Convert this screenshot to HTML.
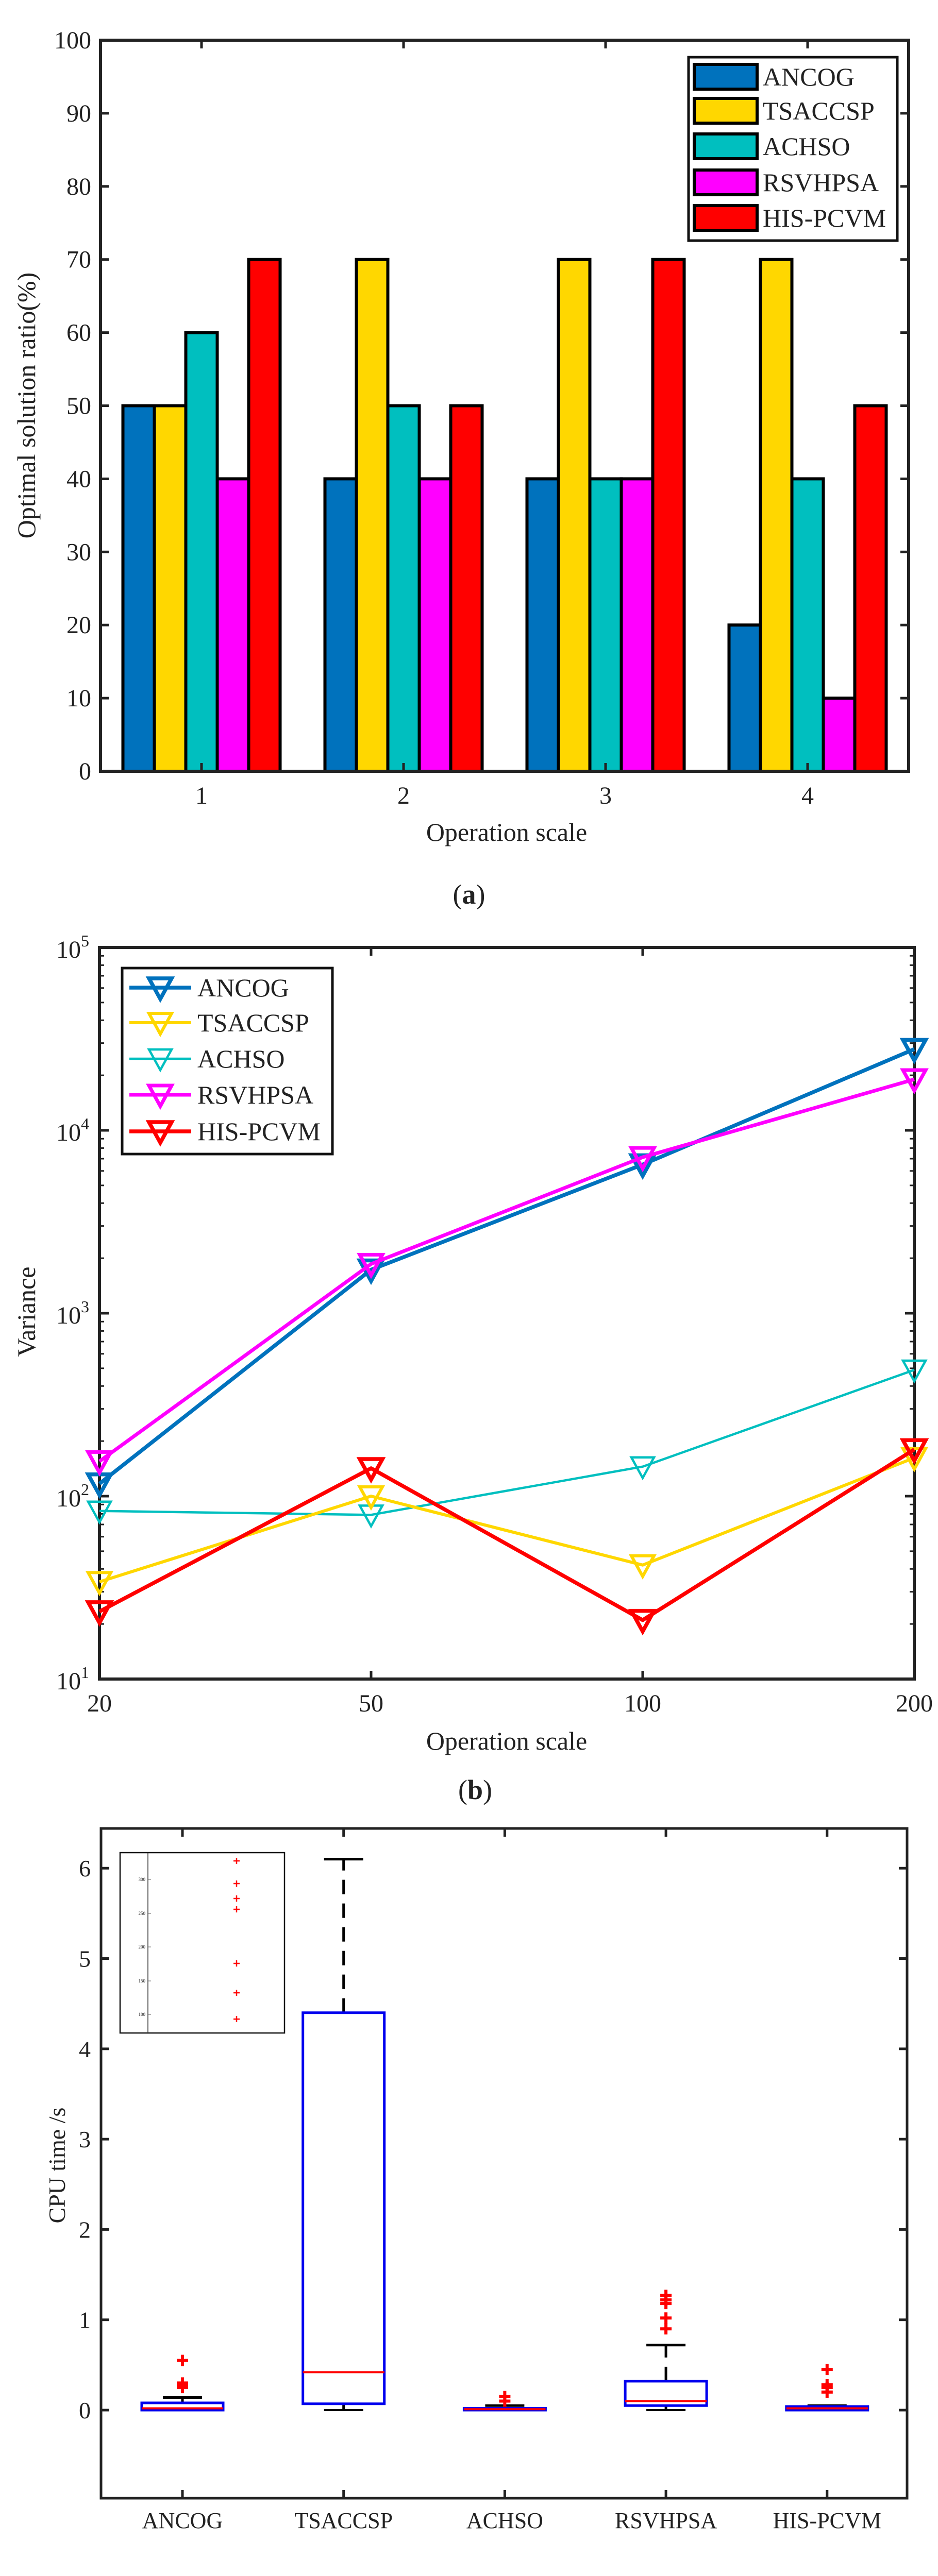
<!DOCTYPE html>
<html><head><meta charset="utf-8"><style>
html,body{margin:0;padding:0;background:#fff;width:1820px;height:5067px;overflow:hidden}
svg{display:block}
text{font-family:"Liberation Serif",serif;fill:#222}
</style></head><body>
<svg id="fig" xmlns="http://www.w3.org/2000/svg" width="1820" height="5067" viewBox="0 0 1820 5067">
<g id="ga"></g>
<g id="gb"></g>
<g id="gc"></g>
</svg>
<script>
// ---- data (a)
const aCategories = ["1","2","3","4"];
const aSeriesNames = ["ANCOG","TSACCSP","ACHSO","RSVHPSA","HIS-PCVM"];
const aAncog = [50,40,40,20];
const aTsaccsp = [50,70,70,70];
const aAchso = [60,50,40,40];
const aRsvhpsa = [40,40,40,10];
const aHis = [70,50,70,50];
const aYTicks = [0,10,20,30,40,50,60,70,80,90,100];
// ---- data (b)
const bCategories = ["20","50","100","200"];
const bAncog = [117,1730,6500,27800];
const bTsaccsp = [34,100,42,162];
const bAchso = [83,79,145,490];
const bRsvhpsa = [155,1860,7130,19000];
const bHis = [23.4,142,21,180];
const bYTickExp = [1,2,3,4,5];
// ---- data (c)
const cCategories = ["ANCOG","TSACCSP","ACHSO","RSVHPSA","HIS-PCVM"];
const cQ1 = [0,0.07,0,0.05,0];
const cQ3 = [0.08,4.4,0.02,0.32,0.04];
const cMedian = [0.02,0.42,0.01,0.1,0.02];
const cWhiskLo = [0,0,0,0,0];
const cWhiskHi = [0.14,6.1,0.05,0.72,0.05];
const cOutliers = [[0.25,0.27,0.3,0.55],[],[0.1,0.15],[0.9,1.02,1.18,1.22,1.27],[0.2,0.25,0.28,0.45]];
const cYTicks = [0,1,2,3,4,5,6];
const insetTickLabels = ["300","250","200","150","100"];

const NS="http://www.w3.org/2000/svg";
function mk(parent,tag,attrs,txt){const e=document.createElementNS(NS,tag);for(const k in attrs)e.setAttribute(k,attrs[k]);if(txt!==undefined)e.textContent=txt;parent.appendChild(e);return e;}

// ================= (a)
(function(){
const g=document.getElementById('ga');
const L=195,R=1763,T=78,B=1497;
const x=v=>L+(v-0.5)/4*(R-L);
const y=v=>B-(v/100)*(B-T);
const colors=["#0072BD","#FFD700","#00BFBF","#FF00FF","#FF0000"];
const series=[aAncog,aTsaccsp,aAchso,aRsvhpsa,aHis];
const bw=61;
series.forEach((s,si)=>{
  s.forEach((v,ci)=>{
    const cx=x(ci+1)-2.5*bw+si*bw;
    const r=mk(g,'rect',{x:cx,y:y(v),width:bw,height:B-y(v),fill:colors[si],stroke:'#000','stroke-width':6});
    
    
  });
});
const box=mk(g,'rect',{x:L,y:T,width:R-L,height:B-T,fill:'none',stroke:'#222','stroke-width':6});

aYTicks.forEach(v=>{
  mk(g,'line',{x1:L,x2:L+16,y1:y(v),y2:y(v),stroke:'#222','stroke-width':5});
  mk(g,'line',{x1:R,x2:R-16,y1:y(v),y2:y(v),stroke:'#222','stroke-width':5});
  const t=mk(g,'text',{x:L-18,y:y(v)+16,'font-size':48,'text-anchor':'end'},String(v));
  
});
aCategories.forEach((c,i)=>{
  mk(g,'line',{x1:x(i+1),x2:x(i+1),y1:B,y2:B-16,stroke:'#222','stroke-width':5});
  mk(g,'line',{x1:x(i+1),x2:x(i+1),y1:T,y2:T+16,stroke:'#222','stroke-width':5});
  const t=mk(g,'text',{x:x(i+1),y:1560,'font-size':48,'text-anchor':'middle'},c);
  
});
let t=mk(g,'text',{x:983,y:1632,'font-size':50,'text-anchor':'middle'},'Operation scale');

t=mk(g,'text',{x:0,y:0,'font-size':50,'text-anchor':'middle',transform:'translate(68,787) rotate(-90)'},'Optimal solution ratio(%)');

const lg=mk(g,'g',{});
mk(lg,'rect',{x:1336,y:111,width:405,height:356,fill:'#fff',stroke:'#111','stroke-width':5});
const ly=[149,215,284,354,423];
aSeriesNames.forEach((n,i)=>{
  const e=mk(lg,'g',{});
  mk(e,'rect',{x:1347,y:ly[i]-24,width:122,height:48,fill:colors[i],stroke:'#000','stroke-width':6});
  mk(e,'text',{x:1480,y:ly[i]+17,'font-size':50},n);
});
t=mk(g,'text',{x:910,y:1754,'font-size':54,'text-anchor':'middle'},'');
t.innerHTML='(<tspan font-weight="bold">a</tspan>)';

})();

// ================= (b)
(function(){
const g=document.getElementById('gb');
const L=193,R=1774,T=1839,B=3259;
const x=i=>L+i*(R-L)/3;
const y=v=>B-(Math.log10(v)-1)/4*(B-T);
for(let d=1;d<5;d++){for(let m=2;m<=9;m++){const yy=y(m*Math.pow(10,d));
  mk(g,'line',{x1:L,x2:L+9,y1:yy,y2:yy,stroke:'#222','stroke-width':3});
  mk(g,'line',{x1:R,x2:R-9,y1:yy,y2:yy,stroke:'#222','stroke-width':3});}}
const box=mk(g,'rect',{x:L,y:T,width:R-L,height:B-T,fill:'none',stroke:'#222','stroke-width':6});

bYTickExp.forEach(e=>{
  const yy=y(Math.pow(10,e));
  mk(g,'line',{x1:L,x2:L+18,y1:yy,y2:yy,stroke:'#222','stroke-width':5});
  mk(g,'line',{x1:R,x2:R-18,y1:yy,y2:yy,stroke:'#222','stroke-width':5});
  const t=mk(g,'text',{x:L-20,y:yy+20,'font-size':48,'text-anchor':'end'},'');
  t.innerHTML='10<tspan dy="-22" font-size="32">'+e+'</tspan>';
  
});
bCategories.forEach((c,i)=>{
  mk(g,'line',{x1:x(i),x2:x(i),y1:B,y2:B-16,stroke:'#222','stroke-width':5});
  mk(g,'line',{x1:x(i),x2:x(i),y1:T,y2:T+16,stroke:'#222','stroke-width':5});
  const t=mk(g,'text',{x:x(i),y:3322,'font-size':48,'text-anchor':'middle'},c);
  
});
const names=["ANCOG","TSACCSP","ACHSO","RSVHPSA","HIS-PCVM"];
const colors=["#0072BD","#FFD700","#00BFBF","#FF00FF","#FF0000"];
const widths=[7.5,6,4.5,7,7.5];
const series=[bAncog,bTsaccsp,bAchso,bRsvhpsa,bHis];
const order=[2,1,4,0,3];
const tri=(cx,cy)=>`${cx-22},${cy-18} ${cx+22},${cy-18} ${cx},${cy+22}`;
order.forEach(si=>{
  const s=series[si];
  const sg=mk(g,'g',{});
  mk(sg,'polyline',{points:s.map((v,i)=>x(i)+','+y(v)).join(' '),fill:'none',stroke:colors[si],'stroke-width':widths[si],'stroke-linejoin':'round'});
  s.forEach((v,i)=>{const p=mk(sg,'polygon',{points:tri(x(i),y(v)),fill:'none',stroke:colors[si],'stroke-width':widths[si]});
    });
});
let t=mk(g,'text',{x:983,y:3396,'font-size':50,'text-anchor':'middle'},'Operation scale');

t=mk(g,'text',{x:0,y:0,'font-size':50,'text-anchor':'middle',transform:'translate(68,2546) rotate(-90)'},'Variance');

const lg=mk(g,'g',{});
mk(lg,'rect',{x:237,y:1879,width:408,height:361,fill:'#fff',stroke:'#111','stroke-width':5});
const ly=[1917,1985,2055,2125,2196];
names.forEach((n,i)=>{
  const e=mk(lg,'g',{});
  mk(e,'line',{x1:251,x2:371,y1:ly[i],y2:ly[i],stroke:colors[i],'stroke-width':widths[i]});
  mk(e,'polygon',{points:tri(311,ly[i]),fill:'none',stroke:colors[i],'stroke-width':widths[i]});
  mk(e,'text',{x:383,y:ly[i]+17,'font-size':50},n);
});
t=mk(g,'text',{x:922,y:3492,'font-size':54,'text-anchor':'middle'},'');
t.innerHTML='(<tspan font-weight="bold">b</tspan>)';

})();

// ================= (c)
(function(){
const g=document.getElementById('gc');
const L=196,R=1760,T=3549,B=4849;
const y0=4678,u=175.3;
const y=v=>y0-v*u;
const x=i=>354+i*312.7;
const box=mk(g,'rect',{x:L,y:T,width:R-L,height:B-T,fill:'none',stroke:'#222','stroke-width':5});

cYTicks.forEach(v=>{
  mk(g,'line',{x1:L,x2:L+16,y1:y(v),y2:y(v),stroke:'#222','stroke-width':5});
  mk(g,'line',{x1:R,x2:R-16,y1:y(v),y2:y(v),stroke:'#222','stroke-width':5});
  const t=mk(g,'text',{x:L-20,y:y(v)+16,'font-size':46,'text-anchor':'end',fill:'#444'},String(v));
  
});
cCategories.forEach((c,i)=>{
  mk(g,'line',{x1:x(i),x2:x(i),y1:B,y2:B-16,stroke:'#222','stroke-width':5});
  mk(g,'line',{x1:x(i),x2:x(i),y1:T,y2:T+16,stroke:'#222','stroke-width':5});
  const t=mk(g,'text',{x:x(i),y:4907,'font-size':44,'text-anchor':'middle',fill:'#444'},c);
  
  const bg=mk(g,'g',{});
  const cx=x(i),hw=79,cw=38;
  mk(bg,'line',{x1:cx,x2:cx,y1:y(cQ3[i]),y2:y(cWhiskHi[i]),stroke:'#000','stroke-width':5,'stroke-dasharray':'28,18'});
  mk(bg,'line',{x1:cx,x2:cx,y1:y(cQ1[i]),y2:y(cWhiskLo[i]),stroke:'#000','stroke-width':5,'stroke-dasharray':'28,18'});
  mk(bg,'line',{x1:cx-cw,x2:cx+cw,y1:y(cWhiskHi[i]),y2:y(cWhiskHi[i]),stroke:'#000','stroke-width':5});
  mk(bg,'line',{x1:cx-cw,x2:cx+cw,y1:y(cWhiskLo[i]),y2:y(cWhiskLo[i]),stroke:'#000','stroke-width':4});
  mk(bg,'rect',{x:cx-hw,y:y(cQ3[i]),width:2*hw,height:Math.max(2,y(cQ1[i])-y(cQ3[i])),fill:'none',stroke:'#0000EE','stroke-width':5});
  mk(bg,'line',{x1:cx-hw,x2:cx+hw,y1:y(cMedian[i]),y2:y(cMedian[i]),stroke:'#FF0000','stroke-width':4});
  cOutliers[i].forEach(o=>{
    mk(bg,'path',{d:`M${cx-11},${y(o)}h22M${cx},${y(o)-11}v22`,stroke:'#FF0000','stroke-width':6});
  });
});
let t=mk(g,'text',{x:0,y:0,'font-size':46,'text-anchor':'middle',fill:'#444',transform:'translate(126,4203) rotate(-90)'},'CPU time /s');

const ig=mk(g,'g',{});
mk(ig,'rect',{x:233,y:3596,width:319,height:350,fill:'#fff',stroke:'#111','stroke-width':2.5});
mk(ig,'line',{x1:287,x2:287,y1:3596,y2:3946,stroke:'#333','stroke-width':1.5});
const insetY=[3648,3714,3779,3845,3910];
insetTickLabels.forEach((l,k)=>{
  mk(ig,'line',{x1:287,x2:293,y1:insetY[k],y2:insetY[k],stroke:'#666','stroke-width':1});
  mk(ig,'text',{x:282,y:insetY[k]+3,'font-size':9,'text-anchor':'end',fill:'#666'},l);
});
const insetPts=[3612,3656,3685,3706,3811,3868,3919];
insetPts.forEach(py=>{mk(ig,'path',{d:`M453,${py}h12M459,${py-6}v12`,stroke:'#FF0000','stroke-width':2.5});});
t=mk(g,'text',{x:922,y:5045,'font-size':54,'text-anchor':'middle'},'');
t.innerHTML='(<tspan font-weight="bold">c</tspan>)';

})();
</script>
</body></html>
